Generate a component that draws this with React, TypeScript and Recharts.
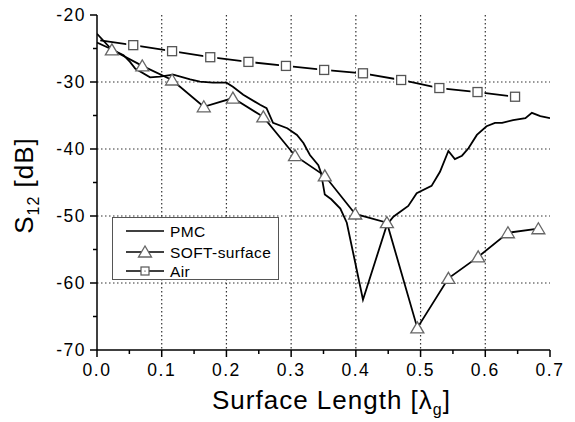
import { LineChart, Line, XAxis, YAxis, CartesianGrid, Legend } from 'recharts';

// PMC (no markers)
const pmcX = [0.0, 0.02, 0.041, 0.051, 0.059, 0.082, 0.097, 0.118, 0.144, 0.159, 0.179, 0.2, 0.21, 0.226, 0.252, 0.262,
	0.272, 0.294, 0.309, 0.319, 0.329, 0.342, 0.346, 0.352, 0.362, 0.376, 0.386, 0.398, 0.411, 0.448, 0.458, 0.468,
	0.481, 0.494, 0.517, 0.53, 0.543, 0.553, 0.564, 0.574, 0.587, 0.602, 0.615, 0.626, 0.643, 0.662, 0.672, 0.685, 0.7];
const pmcY = [-24.1, -25.0, -26.0, -27.0, -28.0, -29.3, -29.2, -28.9, -29.6, -29.95, -30.1, -30.1, -30.7, -31.9, -33.4, -33.9,
	-36.1, -36.9, -37.9, -39.1, -40.9, -42.4, -43.5, -46.8, -47.5, -48.9, -51.0, -56.5, -62.5, -51.3, -50.1, -49.4,
	-48.5, -46.6, -45.5, -43.4, -40.3, -41.5, -41.0, -39.9, -37.9, -36.6, -36.1, -36.1, -35.7, -35.4, -34.6, -35.1, -35.4];

// SOFT-surface (first point has no marker)
const softX = [0.0, 0.023, 0.07, 0.116, 0.165, 0.21, 0.257, 0.306, 0.352, 0.399, 0.448, 0.495, 0.543, 0.589, 0.635, 0.682];
const softY = [-22.8, -25.2, -27.6, -29.7, -33.7, -32.4, -35.2, -41.0, -44.0, -49.7, -51.0, -66.7, -59.3, -56.1, -52.5, -51.9];

// Air (first point has no marker)
const airX = [0.005, 0.056, 0.116, 0.175, 0.234, 0.292, 0.351, 0.411, 0.47, 0.529, 0.588, 0.646];
const airY = [-23.8, -24.5, -25.4, -26.3, -27.0, -27.6, -28.2, -28.7, -29.7, -30.9, -31.5, -32.2];

const xTicks = [0, 0.05, 0.1, 0.15, 0.2, 0.25, 0.3, 0.35, 0.4, 0.45, 0.5, 0.55, 0.6, 0.65, 0.7];
const yTicks = [-70, -65, -60, -55, -50, -45, -40, -35, -30, -25, -20];
const xGrid = [0.1, 0.2, 0.3, 0.4, 0.5, 0.6];
const yGrid = [-60, -50, -40, -30];

const pmc = pmcX.map((x, i) => ({ x, y: pmcY[i] }));
const soft = softX.map((x, i) => ({ x, y: softY[i], m: i > 0 }));
const air = airX.map((x, i) => ({ x, y: airY[i], m: i > 0 }));

const FONT = '"Liberation Sans", Arial, sans-serif';

const isMajor = (v: number, step: number) => Math.abs(v / step - Math.round(v / step)) < 1e-6;

const XTick = (props: any) => {
	const { x, y, payload } = props;
	const major = isMajor(payload.value, 0.1);
	return (
		<g>
			<line x1={x} x2={x} y1={y} y2={y + (major ? 7 : 4)} stroke='#000' strokeWidth={1.5} />
			{major && (
				<text x={x} y={y + 26} textAnchor='middle' fontSize={17.5} letterSpacing={1.5} fill='#000' fontFamily={FONT}>
					{payload.value.toFixed(1)}
				</text>
			)}
		</g>
	);
};

const YTick = (props: any) => {
	const { x, y, payload } = props;
	const major = isMajor(payload.value, 10);
	return (
		<g>
			<line x1={x} x2={x - (major ? 7 : 4)} y1={y} y2={y} stroke='#000' strokeWidth={1.5} />
			{major && (
				<text x={x - 11} y={y + 6} textAnchor='end' fontSize={17.5} letterSpacing={1.5} fill='#000' fontFamily={FONT}>
					{payload.value}
				</text>
			)}
		</g>
	);
};

const Triangle = (props: any) => {
	const { cx, cy, payload, index } = props;
	if (!payload.m) return <g key={index} />;
	return (
		<polygon
			key={index}
			points={`${cx},${cy - 6} ${cx - 6.5},${cy + 5} ${cx + 6.5},${cy + 5}`}
			fill='#fff'
			stroke='#666'
			strokeWidth={1.3}
		/>
	);
};

const Square = (props: any) => {
	const { cx, cy, payload, index } = props;
	if (!payload.m) return <g key={index} />;
	return (
		<g key={index}>
			<rect x={cx - 7} y={cy - 7} width={14} height={14} fill='#fff' />
			<rect x={cx - 4.5} y={cy - 4.5} width={9} height={9} fill='#fff' stroke='#555' strokeWidth={1.3} />
		</g>
	);
};

const LegendBox = () => (
	<svg width={167} height={63} style={{ display: 'block' }}>
		<rect x={0.5} y={0.5} width={166} height={62} fill='#fff' stroke='#555' strokeWidth={1} />
		<line x1={14} x2={52} y1={14} y2={14} stroke='#000' strokeWidth={1.5} />
		<text x={58} y={20} fontSize={15.5} letterSpacing={0.4} fontFamily={FONT}>PMC</text>
		<line x1={14} x2={52} y1={35} y2={35} stroke='#000' strokeWidth={1.5} />
		<polygon points='33,29 26.5,40 39.5,40' fill='#fff' stroke='#666' strokeWidth={1.3} />
		<text x={58} y={41} fontSize={15.5} letterSpacing={0.4} fontFamily={FONT}>SOFT-surface</text>
		<line x1={14} x2={52} y1={54} y2={54} stroke='#000' strokeWidth={1.5} />
		<rect x={29} y={50} width={8} height={8} fill='#fff' stroke='#555' strokeWidth={1.2} />
		<circle cx={33} cy={54} r={0.6} fill='#000' />
		<text x={58} y={60} fontSize={15.5} letterSpacing={0.4} fontFamily={FONT}>Air</text>
	</svg>
);

const App = () => {
	return (
		<div style={{ position: 'absolute', left: 0, top: 0 }}>
			<LineChart width={575} height={422} margin={{ top: 15, right: 25, left: 0, bottom: 0 }}>
				<CartesianGrid
					horizontalValues={yGrid}
					verticalValues={xGrid}
					stroke='#333'
					strokeDasharray='1.5 2.5'
					strokeWidth={1.2}
				/>
				<XAxis
					type='number'
					dataKey='x'
					domain={[0, 0.7]}
					ticks={xTicks}
					interval={0}
					height={72}
					tickSize={0}
					tickMargin={0}
					tickLine={false}
					tick={<XTick />}
					axisLine={{ stroke: '#000', strokeWidth: 1.5 }}
					allowDataOverflow
					label={{
						content: (p: any) => {
							const vb = p.viewBox;
							return (
								<text x={vb.x + vb.width / 2 + 8} y={vb.y + 59} textAnchor='middle' fontSize={26} letterSpacing={1} fontFamily={FONT} fill='#000'>
									Surface Length [λ
									<tspan dy={6} fontSize={16}>g</tspan>
									<tspan dy={-6}>]</tspan>
								</text>
							);
						},
					}}
				/>
				<YAxis
					type='number'
					dataKey='y'
					domain={[-70, -20]}
					ticks={yTicks}
					interval={0}
					width={97}
					tickSize={0}
					tickMargin={0}
					tickLine={false}
					tick={<YTick />}
					axisLine={{ stroke: '#000', strokeWidth: 1.5 }}
					allowDataOverflow
					label={{
						content: (p: any) => {
							const vb = p.viewBox;
							const cx = 33;
							const cy = vb.y + vb.height / 2 + 3;
							return (
								<text
									x={cx}
									y={cy}
									transform={`rotate(-90 ${cx} ${cy})`}
									textAnchor='middle'
									fontSize={26}
									letterSpacing={1}
									fontFamily={FONT}
									fill='#000'
								>
									S
									<tspan dy={6} fontSize={16}>12</tspan>
									<tspan dy={-6}> [dB]</tspan>
								</text>
							);
						},
					}}
				/>
				<Legend
					layout='vertical'
					align='center'
					verticalAlign='middle'
					content={() => <LegendBox />}
					wrapperStyle={{ position: 'absolute', left: 112, top: 217, width: 167, height: 63 }}
				/>
				<Line
					data={pmc}
					dataKey='y'
					name='PMC'
					type='linear'
					stroke='#000'
					strokeWidth={1.8}
					dot={false}
					activeDot={false}
					isAnimationActive={false}
				/>
				<Line
					data={soft}
					dataKey='y'
					name='SOFT-surface'
					type='linear'
					stroke='#000'
					strokeWidth={1.8}
					dot={Triangle}
					activeDot={false}
					isAnimationActive={false}
				/>
				<Line
					data={air}
					dataKey='y'
					name='Air'
					type='linear'
					stroke='#000'
					strokeWidth={1.8}
					dot={Square}
					activeDot={false}
					isAnimationActive={false}
				/>
			</LineChart>
		</div>
	);
};

export default App;
